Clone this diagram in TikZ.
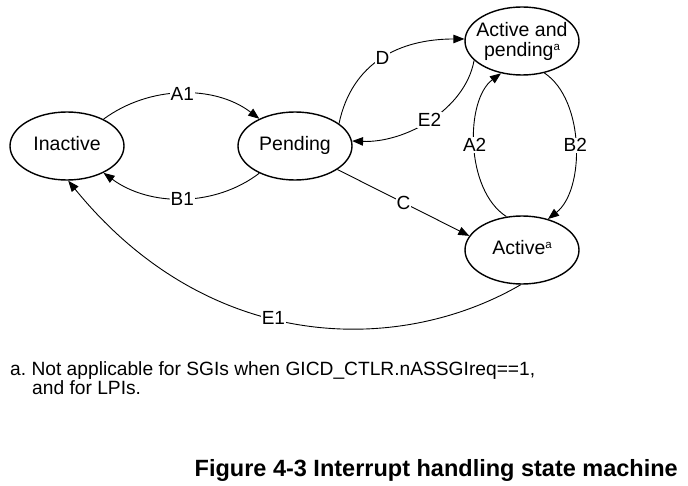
\documentclass[tikz,border=0pt]{standalone}
\usepackage{fontspec}
\setmainfont{Liberation Sans}
\usetikzlibrary{shapes.geometric,arrows.meta}
\frenchspacing
\tikzset{
  state/.style={draw, ellipse, line width=1.4pt, minimum width=114pt, minimum height=68pt, inner sep=0pt, align=center, font=\fontsize{19.5}{20}\selectfont},
  one/.style={text height=14pt, text depth=4pt},
  two/.style={inner xsep=-14pt, inner ysep=-8pt},
  arr/.style={line width=0.9pt, -{Triangle[length=11pt,width=8.5pt]}},
  lbl/.style={fill=white, inner sep=1pt, font=\fontsize{19}{21}\selectfont},
  foot/.style={anchor=base west, inner sep=0pt, font=\fontsize{19.2}{20}\selectfont},
}
\newcommand{\supa}{\raisebox{6pt}{\fontsize{11.5}{11.5}\selectfont a}}
\begin{document}
\begin{tikzpicture}[x=1pt,y=-1pt]
\useasboundingbox (0,0) rectangle (688,486);
\node[state,one] (ina) at (67,146) {Inactive};
\node[state,one] (pen) at (295,146) {Pending};
\node[state,two] (ap) at (522,41) {Active and\\pending\supa};
\node[state,one] (act) at (522,250) {Active\supa};

\draw[arr] (ina) .. controls (150,85) and (215,85) .. node[lbl] {A1} (pen);
\draw[arr] (pen) .. controls (215,207) and (150,207) .. node[lbl] {B1} (ina);
\draw[arr] (pen.27) .. controls (352,62) and (400,39) .. node[lbl] {D} (ap.178);
\draw[arr] (ap.202) .. controls (465,110) and (405,143) .. node[lbl] {E2} (pen.5);
\draw[arr] (act.115) .. controls (465,190) and (465,100) .. node[lbl] {A2} (ap.237);
\draw[arr] (ap.-55) .. controls (585,100) and (585,190) .. node[lbl] {B2} (act.50);
\draw[arr] (pen.-29) -- node[lbl] {C} (act.165);
\draw[arr] (act.-92) .. controls (400,355) and (210,355) .. node[lbl,pos=0.56] {E1} (ina.-88);

\node[foot] (fn1) at (10,375) {a. Not applicable for SGIs when GICD\_CTLR.nASSGIreq==1,};
\node[foot] (fn2) at (32,394) {and for LPIs.};
\node[anchor=base east, inner sep=0pt, font=\fontsize{23.5}{26}\selectfont\bfseries] (title) at (678,476) {Figure 4-3 Interrupt handling state machine};
\end{tikzpicture}
\end{document}
